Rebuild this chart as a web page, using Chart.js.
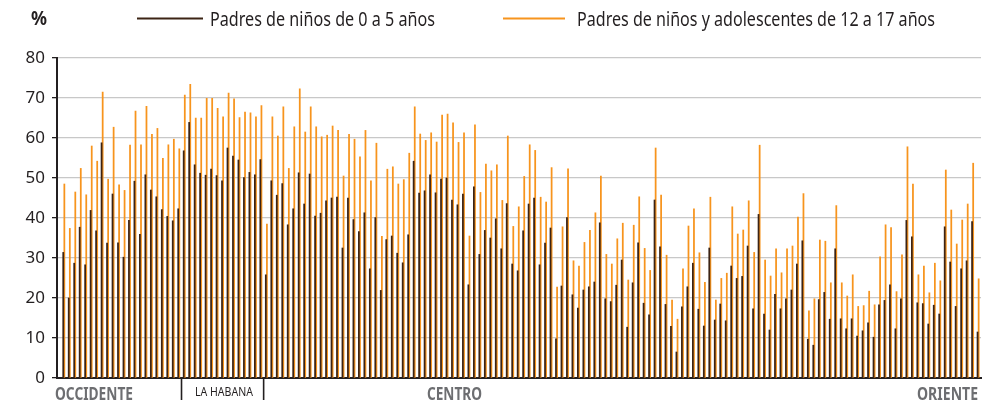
<!DOCTYPE html>
<html>
<head>
<meta charset="utf-8">
<script src="https://cdn.jsdelivr.net/npm/chart.js@4/dist/chart.umd.min.js"></script>
<style>
  html, body { margin: 0; padding: 0; background: #ffffff; }
  #wrap { width: 998px; height: 404px; }
</style>
</head>
<body>
<div id="wrap"><canvas id="c" width="998" height="404"></canvas></div>
<script>
// Porcentaje de padres por municipio (168 municipios, de occidente a oriente)
const padresNinos0a5 = [
  31.4, 20.0, 28.7, 37.7, 28.3, 41.9, 36.8, 58.8, 33.7, 46.0, 33.8, 30.2, 39.4, 49.2, 35.9, 50.8, 47.0, 45.3, 42.1, 40.4, 39.3, 42.3,
  56.8, 63.9, 53.3, 51.2, 50.7, 52.2, 50.6, 49.3, 57.5, 55.5, 54.5, 50.1, 51.4, 50.8, 54.6,
  25.8, 49.3, 45.7, 48.6, 38.3, 42.3, 51.3, 43.5, 51.0, 40.5, 41.2, 44.3, 45.0, 45.2, 32.5, 45.0, 39.6, 36.6, 41.3, 27.3, 40.1,
  21.9, 34.6, 35.5, 31.2, 28.8, 35.8, 54.2, 46.2, 46.8, 50.8, 46.3, 49.7, 50.0, 44.5, 43.3, 46.0, 23.3, 47.8, 30.9, 36.9, 35.0,
  39.8, 32.3, 43.6, 28.5, 26.8, 36.8, 43.5, 45.0, 28.3, 33.7, 37.5, 9.8, 23.0, 40.1, 20.8, 17.5, 22.0, 22.8, 24.0, 38.8, 19.8,
  19.1, 23.2, 29.5, 12.7, 23.8, 33.8, 18.7, 15.8, 44.5, 32.8, 18.4, 12.9, 6.5, 17.8, 22.8, 28.7, 17.2, 13.0, 32.5, 14.5, 18.5,
  14.3, 28.0, 24.9, 25.4, 33.0, 17.3, 40.9, 16.0, 12.0, 20.9, 17.3, 19.8, 22.0, 28.5, 34.3, 9.7, 8.2, 19.6, 21.4, 14.7, 32.3,
  14.8, 12.3, 14.8, 10.5, 11.8, 13.8, 10.2, 18.3, 19.4, 23.3, 12.3, 19.8, 39.4, 35.3, 18.8, 18.6, 13.5, 18.2, 16.0, 37.8, 29.0,
  17.9, 27.3, 29.3, 39.1, 11.5
];
const padresAdolescentes12a17 = [
  48.5, 37.4, 46.5, 52.4, 45.8, 58.0, 54.2, 71.5, 49.7, 62.7, 48.3, 46.9, 58.2, 66.7, 58.3, 67.9, 60.9, 62.4, 54.9, 58.3, 59.7, 57.3,
  70.7, 73.4, 65.0, 65.0, 69.9, 69.9, 67.4, 65.3, 71.2, 69.8, 65.1, 66.5, 66.3, 65.3, 68.1,
  38.5, 65.3, 60.5, 67.8, 52.4, 62.8, 72.3, 61.5, 67.8, 62.8, 60.3, 60.7, 63.0, 61.9, 50.5, 60.9, 59.7, 55.3, 61.9, 49.3, 58.7,
  35.4, 52.2, 52.8, 48.5, 49.6, 56.2, 67.8, 61.0, 59.4, 61.3, 59.0, 65.7, 66.0, 63.8, 58.9, 61.3, 35.5, 63.3, 46.4, 53.5, 51.8,
  53.3, 44.4, 60.5, 37.9, 42.8, 50.4, 58.3, 56.9, 45.2, 44.0, 52.6, 22.7, 37.8, 52.3, 29.3, 28.0, 33.9, 36.9, 41.3, 50.5, 30.9,
  28.5, 34.8, 38.7, 24.5, 38.2, 45.3, 32.4, 26.9, 57.5, 45.7, 30.7, 19.5, 14.7, 27.3, 38.0, 42.3, 31.3, 23.9, 45.2, 19.5, 24.9,
  26.2, 42.8, 36.0, 37.0, 44.3, 31.4, 58.2, 29.5, 25.5, 32.3, 26.3, 32.3, 33.0, 40.2, 46.1, 16.8, 19.8, 34.5, 34.2, 23.8, 43.1,
  23.8, 20.5, 25.8, 17.9, 18.1, 21.7, 18.3, 30.3, 38.3, 37.6, 21.6, 30.8, 57.8, 48.5, 25.8, 28.0, 21.3, 28.7, 24.3, 52.0, 42.0,
  33.5, 39.5, 43.5, 53.7, 24.8
];

const nombresSeries = ['Padres de niños de 0 a 5 años', 'Padres de niños y adolescentes de 12 a 17 años'];
const coloresSeries = ['#3c2415', '#f7941d'];

// Regiones marcadas bajo el eje horizontal
const regiones = ['OCCIDENTE', 'LA HABANA', 'CENTRO', 'ORIENTE'];
const inicioRegion = [0, 22, 37];           // primer municipio de cada tramo separado
const yMin = 0, yMax = 80, yPaso = 10;

const FONT = "'Noto Sans', 'Open Sans', 'Liberation Sans', sans-serif";
const TEXT = '#231f20';
const GRIS = '#6d6e71';

const puntos = arr => arr.map((v, i) => ({ x: i, y: v }));

// Texto condensado: se comprime horizontalmente hasta el ancho indicado
function textoAjustado(ctx, texto, izq, base, ancho) {
  const w = ctx.measureText(texto).width;
  ctx.save();
  ctx.translate(izq, base);
  ctx.scale(ancho / w, 1);
  ctx.textAlign = 'left';
  ctx.textBaseline = 'alphabetic';
  ctx.fillText(texto, 0, 0);
  ctx.restore();
}

const decoracion = {
  id: 'decoracion',
  afterDraw(chart) {
    const ctx = chart.ctx;
    const xs = chart.scales.x;
    const area = chart.chartArea;
    ctx.save();

    // "%" sobre el eje vertical
    ctx.fillStyle = TEXT;
    ctx.font = 'bold 19px ' + FONT;
    textoAjustado(ctx, '%', 31, 25, 16);

    // Leyenda
    const items = [
      { x0: 137, x1: 203, tx: 210, w: 225 },
      { x0: 503, x1: 565, tx: 577, w: 358 }
    ];
    ctx.font = '20px ' + FONT;
    items.forEach((it, k) => {
      ctx.strokeStyle = coloresSeries[k];
      ctx.lineWidth = 2;
      ctx.beginPath();
      ctx.moveTo(it.x0, 18.5);
      ctx.lineTo(it.x1, 18.5);
      ctx.stroke();
      ctx.fillStyle = TEXT;
      textoAjustado(ctx, nombresSeries[k], it.tx, 25.5, it.w);
    });

    // Separadores de La Habana bajo el eje
    ctx.strokeStyle = TEXT;
    ctx.lineWidth = 1.6;
    [inicioRegion[1], inicioRegion[2]].forEach(i => {
      const px = xs.getPixelForValue(i - 0.5);
      ctx.beginPath();
      ctx.moveTo(px, area.bottom);
      ctx.lineTo(px, area.bottom + 22);
      ctx.stroke();
    });

    // Nombres de las regiones
    ctx.font = 'bold 17px ' + FONT;
    ctx.fillStyle = GRIS;
    textoAjustado(ctx, regiones[0], 55, 400, 78);
    textoAjustado(ctx, regiones[2], 427, 400, 55);
    textoAjustado(ctx, regiones[3], 917, 400, 61);

    ctx.font = '13px ' + FONT;
    ctx.fillStyle = TEXT;
    textoAjustado(ctx, regiones[1], 195, 395.5, 58);

    ctx.restore();
  }
};

new Chart(document.getElementById('c'), {
  type: 'bar',
  data: {
    datasets: [
      { label: nombresSeries[0], data: puntos(padresNinos0a5), backgroundColor: coloresSeries[0], barThickness: 1.1 },
      { label: nombresSeries[1], data: puntos(padresAdolescentes12a17), backgroundColor: coloresSeries[1], barThickness: 1.1 }
    ]
  },
  options: {
    responsive: false,
    animation: false,
    events: [],
    layout: { padding: { top: 58, right: 17, left: 0, bottom: 0 } },
    plugins: { legend: { display: false }, tooltip: { enabled: false } },
    scales: {
      x: {
        type: 'linear',
        offset: false,
        min: -1.242,
        max: 167.53,
        grid: { display: false, offset: false },
        ticks: { display: false },
        border: { display: true, color: TEXT, width: 2 },
        afterFit(s) { s.height = 26; }
      },
      y: {
        min: yMin,
        max: yMax,
        ticks: { stepSize: yPaso, color: TEXT, font: { family: FONT, size: 17 }, padding: 7 },
        grid: { color: '#c8c8c8', lineWidth: 1.3, tickColor: TEXT, tickLength: 5, tickWidth: 1.3 },
        border: { display: true, color: TEXT, width: 2 },
        afterFit(s) { s.width = 57; }
      }
    }
  },
  plugins: [decoracion]
});
</script>
</body>
</html>
